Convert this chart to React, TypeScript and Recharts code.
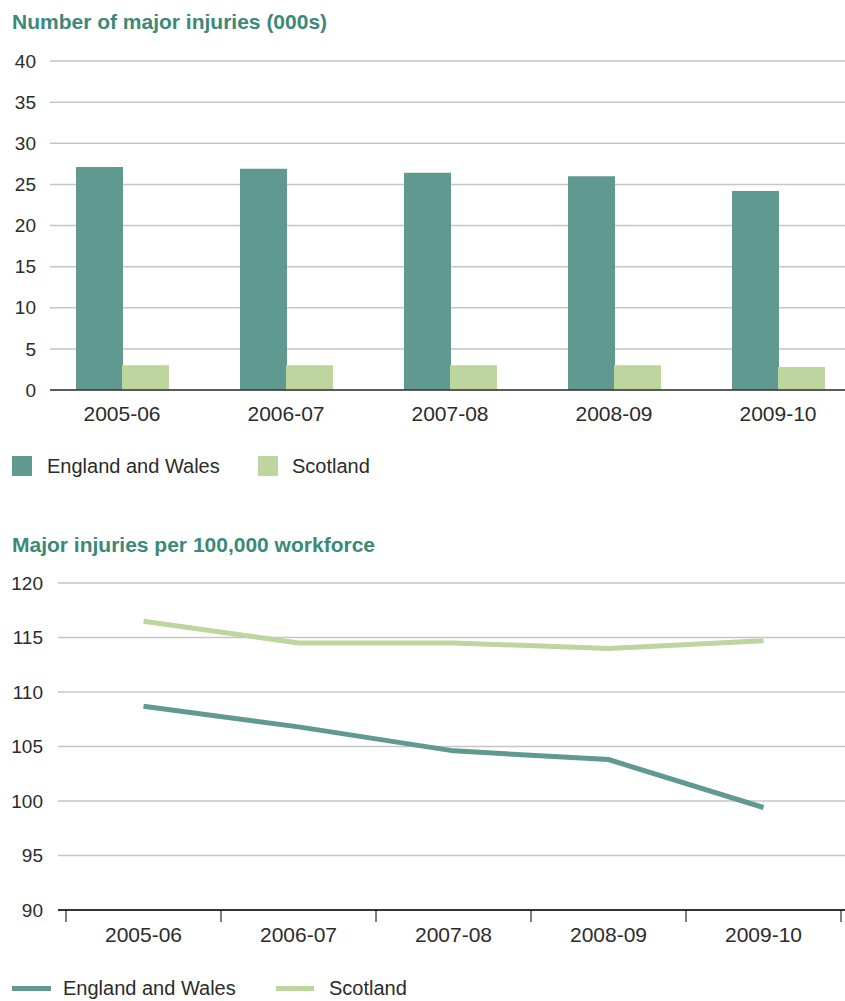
import React from "react";
import {
  Bar,
  BarChart,
  CartesianGrid,
  Line,
  LineChart,
  XAxis,
  YAxis,
} from "recharts";

const years = ["2005-06", "2006-07", "2007-08", "2008-09", "2009-10"];
const injuriesEnglandWales = [27.1, 26.9, 26.4, 26.0, 24.2];
const injuriesScotland = [3.0, 3.0, 3.0, 3.0, 2.8];
const rateEnglandWales = [108.7, 106.8, 104.6, 103.8, 99.4];
const rateScotland = [116.5, 114.5, 114.5, 114.0, 114.7];
const countTicks = [0, 5, 10, 15, 20, 25, 30, 35, 40];
const rateTicks = [90, 95, 100, 105, 110, 115, 120];

const EW_COLOR = "#5f998f";
const SCOT_COLOR = "#bdd59e";
const TITLE_COLOR = "#3b8977";
const TEXT_COLOR = "#2b2b2b";
const GRID_COLOR = "#c6c6c6";
const FONT = "'Liberation Sans', Arial, sans-serif";

const countData = years.map((year, i) => ({
  year,
  ew: injuriesEnglandWales[i],
  scot: injuriesScotland[i],
}));

const rateData = years.map((year, i) => ({
  year,
  ew: rateEnglandWales[i],
  scot: rateScotland[i],
}));

const yTickStyle = { fill: TEXT_COLOR, fontSize: 19, fontFamily: FONT };
const xTickStyle = { fill: TEXT_COLOR, fontSize: 21, fontFamily: FONT };

// category label in the middle, tick marks on the band edges
const EdgeTick = (props: any) => {
  const { x, y, payload, index, visibleTicksCount } = props;
  const half = payload.offset || 0;
  const top = y - 17;
  const bottom = y - 5;
  return (
    <g>
      <line x1={x - half} x2={x - half} y1={top} y2={bottom} stroke="#000" />
      {index === visibleTicksCount - 1 && (
        <line x1={x + half} x2={x + half} y1={top} y2={bottom} stroke="#000" />
      )}
      <text
        x={x}
        y={y}
        dy="0.71em"
        textAnchor="middle"
        fill={TEXT_COLOR}
        fontSize={21}
        fontFamily={FONT}
      >
        {payload.value}
      </text>
    </g>
  );
};

const Title = ({ top, children }: { top: number; children: React.ReactNode }) => (
  <div
    style={{
      position: "absolute",
      left: 12,
      top,
      fontSize: 21,
      lineHeight: "24px",
      fontWeight: 700,
      color: TITLE_COLOR,
      fontFamily: FONT,
    }}
  >
    {children}
  </div>
);

const LegendItem = ({
  left,
  top,
  label,
  swatch,
}: {
  left: number;
  top: number;
  label: string;
  swatch: React.ReactNode;
}) => (
  <div
    style={{
      position: "absolute",
      left,
      top,
      display: "flex",
      alignItems: "center",
      fontSize: 20,
      color: TEXT_COLOR,
      fontFamily: FONT,
      height: 24,
    }}
  >
    {swatch}
    {label}
  </div>
);

export default function App() {
  return (
    <div
      style={{
        position: "absolute",
        left: 0,
        top: 0,
        width: 845,
        height: 1001,
        overflow: "hidden",
        background: "#fff",
      }}
    >
      <Title top={10}>Number of major injuries (000s)</Title>
      <div style={{ position: "absolute", left: 0, top: 0 }}>
        <BarChart
          width={870}
          height={440}
          data={countData}
          margin={{ top: 61, right: 10, bottom: 10, left: 0 }}
          barCategoryGap={36}
          barGap={-1}
        >
          <CartesianGrid vertical={false} stroke={GRID_COLOR} strokeWidth={1.5} />
          <XAxis
            dataKey="year"
            height={40}
            padding={{ left: -10, right: 0 }}
            tickLine={false}
            tickSize={0}
            tickMargin={16}
            axisLine={{ stroke: "#333", strokeWidth: 1.5 }}
            tick={xTickStyle}
          />
          <YAxis
            width={50}
            domain={[0, 40]}
            ticks={countTicks}
            axisLine={false}
            tickLine={false}
            tickSize={0}
            tickMargin={14}
            tick={yTickStyle}
          />
          <Bar dataKey="ew" name="England and Wales" fill={EW_COLOR} isAnimationActive={false} />
          <Bar dataKey="scot" name="Scotland" fill={SCOT_COLOR} isAnimationActive={false} />
        </BarChart>
      </div>
      <LegendItem
        left={12}
        top={454}
        label="England and Wales"
        swatch={<span style={{ width: 20, height: 20, background: EW_COLOR, marginRight: 15 }} />}
      />
      <LegendItem
        left={258}
        top={454}
        label="Scotland"
        swatch={<span style={{ width: 20, height: 20, background: SCOT_COLOR, marginRight: 14 }} />}
      />

      <Title top={533}>Major injuries per 100,000 workforce</Title>
      <div style={{ position: "absolute", left: 0, top: 500 }}>
        <LineChart
          width={860}
          height={460}
          data={rateData}
          margin={{ top: 83, right: 0, bottom: 10, left: 0 }}
        >
          <CartesianGrid vertical={false} stroke={GRID_COLOR} strokeWidth={1.5} />
          <XAxis
            dataKey="year"
            scale="band"
            height={40}
            padding={{ left: 8, right: 19 }}
            tickLine={false}
            tickSize={12}
            tickMargin={5}
            axisLine={{ stroke: "#000", strokeWidth: 1.5 }}
            tick={<EdgeTick />}
          />
          <YAxis
            width={58}
            domain={[90, 120]}
            ticks={rateTicks}
            axisLine={false}
            tickLine={false}
            tickSize={0}
            tickMargin={15}
            tick={yTickStyle}
          />
          <Line
            dataKey="ew"
            name="England and Wales"
            stroke={EW_COLOR}
            strokeWidth={5}
            dot={false}
            isAnimationActive={false}
          />
          <Line
            dataKey="scot"
            name="Scotland"
            stroke={SCOT_COLOR}
            strokeWidth={5}
            dot={false}
            isAnimationActive={false}
          />
        </LineChart>
      </div>
      <LegendItem
        left={12}
        top={976}
        label="England and Wales"
        swatch={<span style={{ width: 39, height: 5, background: EW_COLOR, marginRight: 12 }} />}
      />
      <LegendItem
        left={276}
        top={976}
        label="Scotland"
        swatch={<span style={{ width: 38, height: 5, background: SCOT_COLOR, marginRight: 15 }} />}
      />
    </div>
  );
}
